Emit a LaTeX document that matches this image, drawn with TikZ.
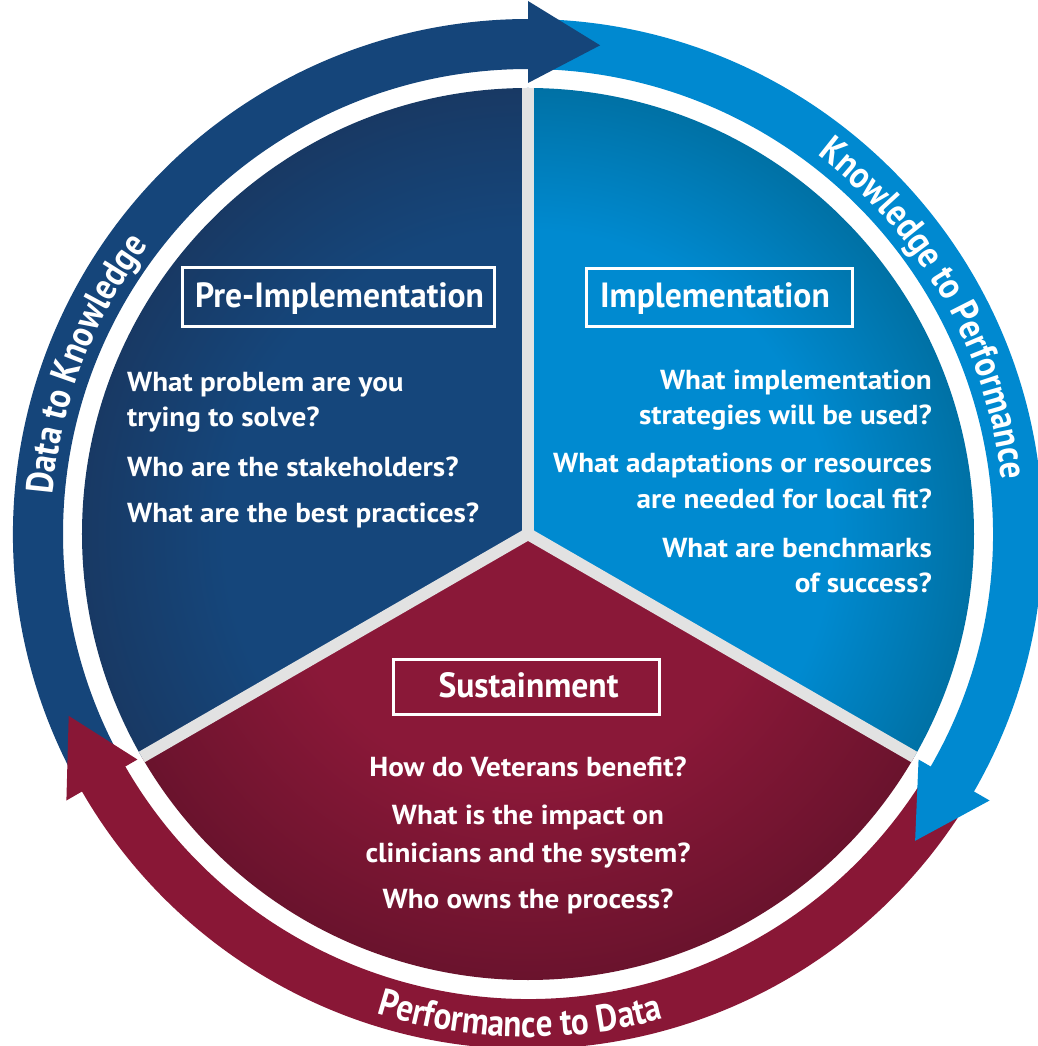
\documentclass[tikz,border=0pt]{standalone}
\usepackage{fontspec}
\setmainfont{PT Sans}
\newfontfamily\ringfam{PT Sans}[FakeStretch=0.87]
\newfontfamily\titlefam{PT Sans}[FakeStretch=0.96]
\newfontfamily\qfam{PT Sans}[FakeStretch=1.06]
\usetikzlibrary{decorations.text}
\definecolor{ringDark}{RGB}{21,69,122}
\definecolor{ringLight}{RGB}{0,137,208}
\definecolor{ringRed}{RGB}{137,23,54}
\definecolor{preA}{RGB}{21,70,123}
\definecolor{preB}{RGB}{24,57,100}
\definecolor{impA}{RGB}{0,138,208}
\definecolor{impB}{RGB}{0,113,165}
\definecolor{susA}{RGB}{138,24,56}
\definecolor{susB}{RGB}{106,19,45}
\definecolor{divc}{RGB}{226,226,226}
\pgfdeclareradialshading{preshade}{\pgfpoint{0bp}{0bp}}{color(0bp)=(preA); color(17bp)=(preA); color(25bp)=(preB); color(50bp)=(preB)}
\pgfdeclareradialshading{impshade}{\pgfpoint{0bp}{0bp}}{color(0bp)=(impA); color(17bp)=(impA); color(25bp)=(impB); color(50bp)=(impB)}
\pgfdeclareradialshading{susshade}{\pgfpoint{0bp}{0bp}}{color(0bp)=(susA); color(14bp)=(susA); color(25bp)=(susB); color(50bp)=(susB)}
\newcommand\ringfnt{\ringfam\fontsize{38}{38}\selectfont\bfseries\color{white}}
\begin{document}
\begin{tikzpicture}[x=1pt,y=1pt,
  divider/.style={draw=divc, line width=12pt},
  titlebox/.style={draw=white, line width=3pt, inner sep=0pt},
  titletext/.style={text=white, font=\titlefam\fontsize{35}{35}\selectfont\bfseries, inner sep=0pt},
  qtext/.style={text=white, font=\qfam\fontsize{27.5}{27.5}\selectfont\bfseries, inner sep=0pt}]
\useasboundingbox (-528,-512) rectangle (509,534);
\fill[white] (-528,-512) rectangle (509,534);
% sectors
\begin{scope}
\clip (0,0) -- (90:446) arc[start angle=90,end angle=210,radius=446] -- cycle;
\shade[shading=preshade] (0,0) circle[radius=446];
\end{scope}
\begin{scope}
\clip (0,0) -- (-30:446) arc[start angle=-30,end angle=90,radius=446] -- cycle;
\shade[shading=impshade] (0,0) circle[radius=446];
\end{scope}
\begin{scope}
\clip (0,0) -- (210:446) arc[start angle=210,end angle=330,radius=446] -- cycle;
\shade[shading=susshade] (0,0) circle[radius=446];
\end{scope}
% dividers
\draw[divider] (0,0) -- (90:446);
\draw[divider] (0,0) -- (210:446);
\draw[divider] (0,0) -- (-30:446);
\fill[divc] (0,0) circle[radius=7];
% ring bodies
\fill[ringDark] (208.5:515) arc[start angle=208.5,end angle=89.5,radius=515] -- (89.5:465) arc[start angle=89.5,end angle=208.5,radius=465] -- cycle;
\fill[ringLight] (88.5:515) arc[start angle=88.5,end angle=-30.5,radius=515] -- (-30.5:465) arc[start angle=-30.5,end angle=88.5,radius=465] -- cycle;
\fill[ringRed] (-31.5:515) arc[start angle=-31.5,end angle=-150.5,radius=515] -- (-150.5:465) arc[start angle=-150.5,end angle=-31.5,radius=465] -- cycle;
% arrow heads
\fill[ringDark] (90:451) -- (90:533) -- (81.6:494) -- cycle;
\fill[ringLight] (-30:451) -- (-30:533) -- (-38.4:494) -- cycle;
\fill[ringRed] (210:451) -- (210:533) -- (201.6:494) -- cycle;
% ring texts
\path[decorate, decoration={text along path, text={|\ringfnt|Data to Knowledge}, text align=center}]
  (194:477) arc[start angle=194,end angle=124,radius=477];
\path[decorate, decoration={text along path, text={|\ringfnt|Knowledge to Performance}, text align=center}]
  (64.6:477) arc[start angle=64.6,end angle=-5.4,radius=477];
\path[decorate, decoration={text along path, text={|\ringfnt|Performance to Data}, text align=center}]
  (239:503) arc[start angle=239,end angle=299,radius=503];
% title boxes
\node[titlebox, minimum width=311pt, minimum height=59pt] (preBox) at (-189.5,236.5) {};
\node[titletext, anchor=base] (preT) at (-188.5,226) {Pre-Implementation};
\node[titlebox, minimum width=266pt, minimum height=58pt] (impBox) at (191,236) {};
\node[titletext, anchor=base] (impT) at (187,226) {Implementation};
\node[titlebox, minimum width=265pt, minimum height=55pt] (susBox) at (-1.5,-152.5) {};
\node[titletext, anchor=base] (susT) at (0.5,-163) {Sustainment};
% pre questions
\node[qtext, anchor=base west] (p1) at (-401,142) {What problem are you};
\node[qtext, anchor=base west] (p2) at (-401,107) {trying to solve?};
\node[qtext, anchor=base west] (p3) at (-401,57) {Who are the stakeholders?};
\node[qtext, anchor=base west] (p4) at (-401,11) {What are the best practices?};
% implementation questions
\node[qtext, anchor=base east] (i1) at (404,144) {What implementation};
\node[qtext, anchor=base east] (i2) at (404,109) {strategies will be used?};
\node[qtext, anchor=base east] (i3) at (404,61) {What adaptations or resources};
\node[qtext, anchor=base east] (i4) at (404,25) {are needed for local fit?};
\node[qtext, anchor=base east] (i5) at (404,-24) {What are benchmarks};
\node[qtext, anchor=base east] (i6) at (404,-59) {of success?};
% sustainment questions
\node[qtext, anchor=base] (s1) at (0,-242) {How do Veterans benefit?};
\node[qtext, anchor=base] (s2) at (0,-290) {What is the impact on};
\node[qtext, anchor=base] (s3) at (0,-328) {clinicians and the system?};
\node[qtext, anchor=base] (s4) at (0,-374) {Who owns the process?};
\end{tikzpicture}
\end{document}
